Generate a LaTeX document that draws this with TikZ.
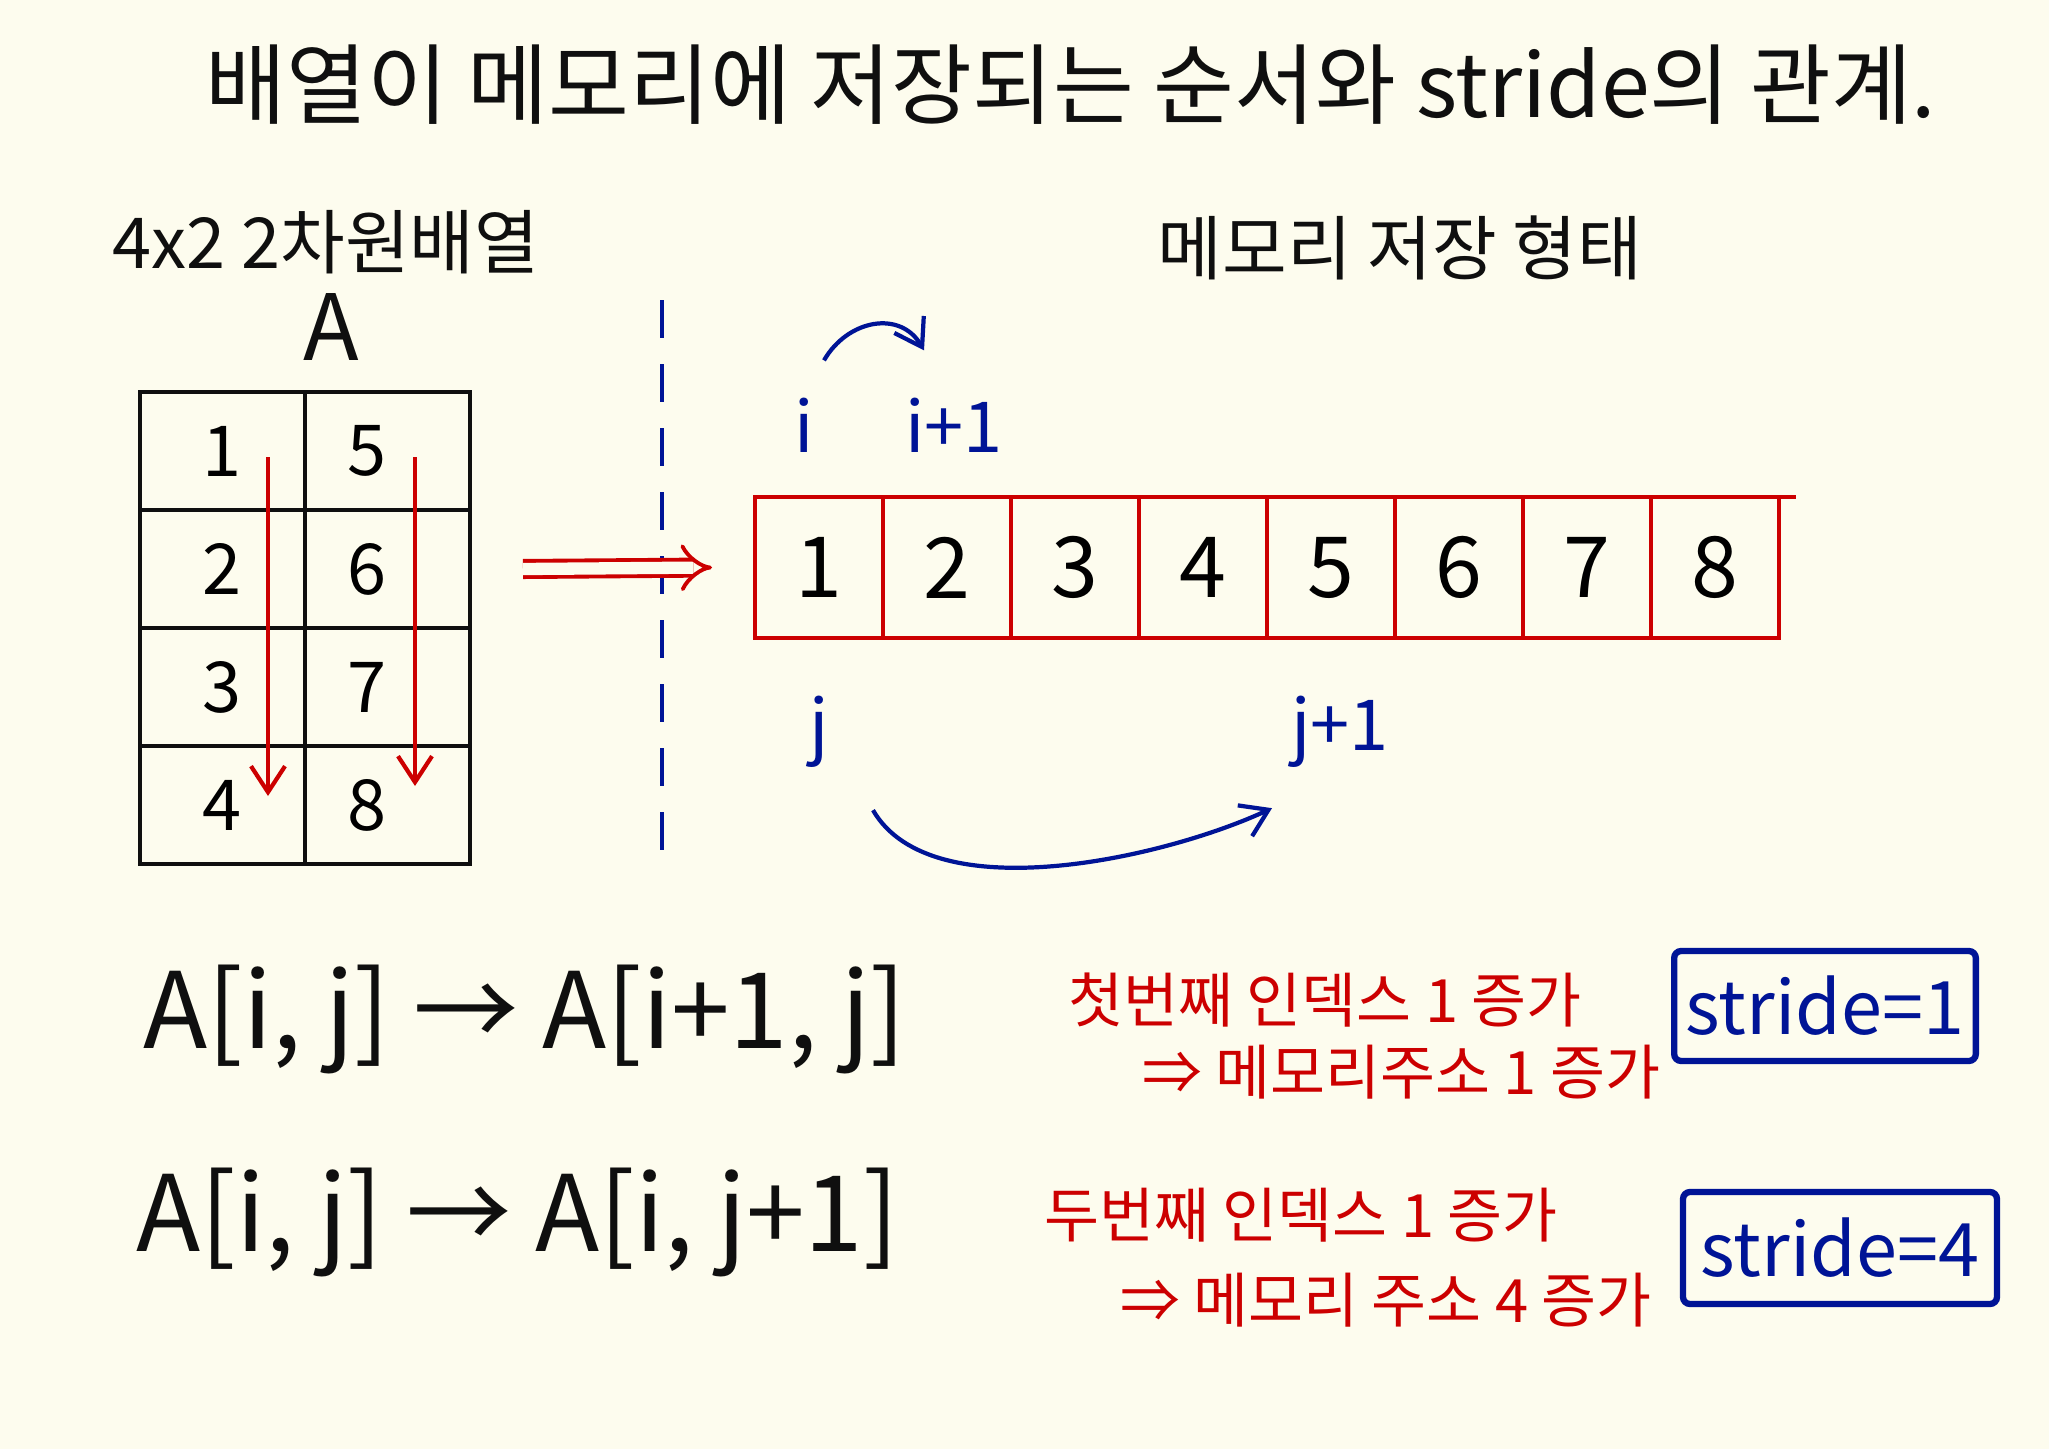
\documentclass[tikz,border=0pt]{standalone}
\usepackage{fontspec}
\setmainfont{Noto Sans CJK KR}
\usetikzlibrary{arrows.meta, positioning, calc}
\definecolor{paper}{RGB}{253, 252, 238}
\definecolor{penred}{RGB}{204, 0, 0}
\definecolor{penblue}{RGB}{0, 20, 150}
\definecolor{penblack}{RGB}{15, 15, 15}
\tikzset{
  >=Stealth,
  redarrow/.style={-{Straight Barb[length=2.6mm, width=3.4mm]}, line width=1.2pt, penred},
  bluearrow/.style={-{Straight Barb[length=2.6mm, width=3.4mm]}, line width=1.2pt, penblue},
  implyarrow/.style={-{Implies}, draw=penred, double=paper, double distance=3.5pt, line width=1.1pt}
}

\begin{document}
\begin{tikzpicture}[
    cell/.style={rectangle, draw=penblack, line width=1.3pt, outer sep=0pt, inner sep=0pt, minimum width=1.65cm, minimum height=1.18cm, font=\fontsize{20}{24}\selectfont},
    memcell/.style={rectangle, draw=penred, line width=1.3pt, outer sep=0pt, inner sep=0pt, minimum width=1.28cm, minimum height=1.41cm, font=\fontsize{24}{28}\selectfont},
    heading/.style={text=penblack, font=\fontsize{20}{24}\selectfont},
    idx/.style={text=penblue, font=\fontsize{20}{24}\selectfont},
    formula/.style={text=penblack, anchor=west, font=\fontsize{30}{34}\selectfont},
    note/.style={text=penred, anchor=west, font=\fontsize{17}{20}\selectfont},
    stridebox/.style={rectangle, draw=penblue, text=penblue, line width=1.8pt, rounded corners=2pt, font=\fontsize{21}{25}\selectfont}
]
    \useasboundingbox[fill=paper] (0,0) rectangle (20.49,-14.49);

    \node (title) at (10.71,-0.85) [text=penblack, font=\fontsize{25}{30}\selectfont] {배열이 메모리에 저장되는 순서와 stride의 관계.};
    \node[heading] (arrtitle) at (3.26,-2.42) {4x2 2차원배열};
    \node[heading] (memtitle) at (14.00,-2.48) {메모리 저장 형태};
    \node (aname) at (3.31,-3.27) [text=penblack, font=\fontsize{26}{30}\selectfont] {A};

    % 2D array
    \node[cell] (c11) at (2.225,-4.51) {1};
    \node[cell, right=0pt of c11] (c12) {\hspace*{-4mm}5};
    \node[cell, below=0pt of c11] (c21) {2};
    \node[cell, right=0pt of c21] (c22) {\hspace*{-4mm}6};
    \node[cell, below=0pt of c21] (c31) {3};
    \node[cell, right=0pt of c31] (c32) {\hspace*{-4mm}7};
    \node[cell, below=0pt of c31] (c41) {4};
    \node[cell, right=0pt of c41] (c42) {\hspace*{-4mm}8};

    \draw[redarrow] ([xshift=-3.7mm, yshift=-6.5mm]c11.north east) -- ([xshift=-3.7mm, yshift=-5mm]c41.north east);
    \draw[redarrow] ([xshift=-5.5mm, yshift=-6.5mm]c12.north east) -- ([xshift=-5.5mm, yshift=-4mm]c42.north east);

    % divider
    \coordinate (splittop) at (6.62,-3.00);
    \coordinate (splitbot) at (6.62,-8.50);
    \draw[penblue, line width=1.2pt, dash pattern=on 0.38cm off 0.26cm] (splittop) -- (splitbot);

    % memory layout
    \node[memcell] (m1) at (8.19,-5.675) {1};
    \node[memcell, right=0pt of m1] (m2) {2};
    \node[memcell, right=0pt of m2] (m3) {3};
    \node[memcell, right=0pt of m3] (m4) {4};
    \node[memcell, right=0pt of m4] (m5) {5};
    \node[memcell, right=0pt of m5] (m6) {6};
    \node[memcell, right=0pt of m6] (m7) {7};
    \node[memcell, right=0pt of m7] (m8) {8};
    \draw[penred, line width=1.3pt] (m8.north east) -- ++(0.17,0);

    \draw[implyarrow] ([xshift=5.3mm]c22.east) -- ([xshift=-4.3mm]m1.west);

    \node[idx] (li) at (8.04,-4.25) {i};
    \node[idx] (lip) at (9.54,-4.25) {i+1};
    \node[idx] (lj) at (8.19,-7.32) {j};
    \node[idx] (ljp) at (13.40,-7.32) {j+1};

    \draw[bluearrow] ([xshift=2mm, yshift=2.5mm]li.north) to[out=60, in=120, looseness=1.2] ([xshift=-3mm, yshift=3.5mm]lip.north);
    \draw[bluearrow] ([xshift=5.4mm, yshift=-3mm]lj.south) to[out=-60, in=205, looseness=0.75] ([xshift=-6.8mm, yshift=-2.8mm]ljp.south);

    % index rules
    \node[formula] (f1) at (1.31,-10.19) {A[i, j] → A[i+1, j]};
    \node[note] (n1a) at (10.56,-10.00) {첫번째 인덱스 1 증가};
    \node[note] (n1b) at (11.30,-10.72) {⇒ 메모리주소 1 증가};
    \node[stridebox, minimum width=2.96cm, minimum height=1.10cm] (s1) at (18.25,-10.06) {stride=1};

    \node[formula] (f2) at (1.24,-12.22) {A[i, j] → A[i, j+1]};
    \node[note] (n2a) at (10.32,-12.15) {두번째 인덱스 1 증가};
    \node[note] (n2b) at (11.08,-13.00) {⇒ 메모리 주소 4 증가};
    \node[stridebox, minimum width=3.14cm, minimum height=1.12cm] (s2) at (18.40,-12.48) {stride=4};
\end{tikzpicture}
\end{document}
